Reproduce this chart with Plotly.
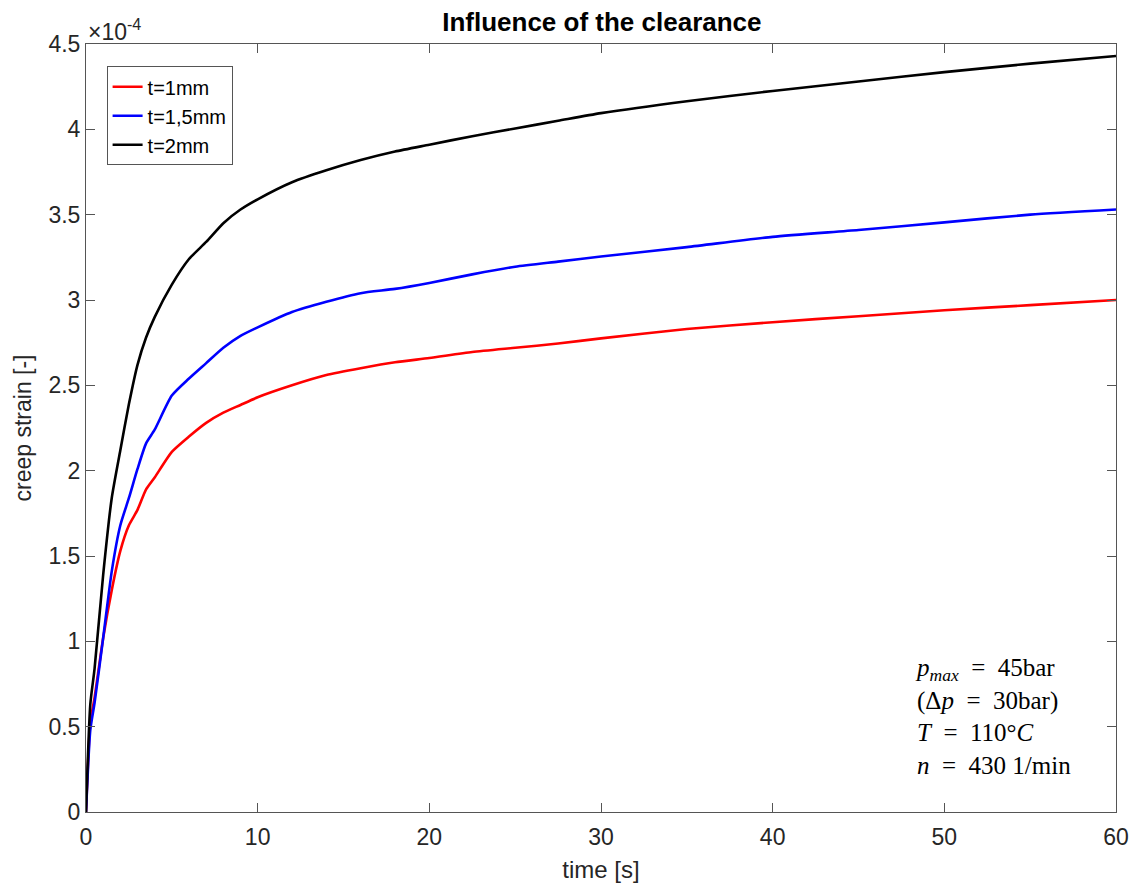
import plotly.graph_objects as go

# Sample times [s]
time_s = [0, 0.25, 0.5, 1, 1.5, 2, 2.5, 3, 3.5, 4, 5, 6, 7, 8, 9, 10,
          12, 14, 16, 18, 20, 22.5, 25, 27.5, 30, 35, 40, 45, 50, 55, 60]

# Creep strain, in units of 1e-4
strain_1mm = [0, 0.52, 0.67, 1.02, 1.30, 1.53, 1.68, 1.77, 1.89, 1.96, 2.11, 2.20, 2.28,
              2.34, 2.385, 2.43, 2.50, 2.56, 2.60, 2.635, 2.66, 2.695, 2.72, 2.745, 2.775,
              2.83, 2.87, 2.905, 2.94, 2.97, 3.00]
strain_1_5mm = [0, 0.48, 0.64, 1.02, 1.41, 1.68, 1.84, 2.01, 2.16, 2.24, 2.44, 2.54, 2.63,
                2.72, 2.79, 2.84, 2.93, 2.99, 3.04, 3.065, 3.10, 3.15, 3.195, 3.225, 3.255,
                3.31, 3.37, 3.41, 3.455, 3.50, 3.53]
strain_2mm = [0, 0.63, 0.84, 1.39, 1.84, 2.12, 2.39, 2.62, 2.78, 2.90, 3.09, 3.24, 3.34,
              3.45, 3.53, 3.59, 3.69, 3.76, 3.82, 3.87, 3.91, 3.96, 4.005, 4.05, 4.095,
              4.165, 4.225, 4.28, 4.335, 4.385, 4.43]

series_names = ["t=1mm", "t=1,5mm", "t=2mm"]
series_colors = ["#ff0000", "#0000ff", "#000000"]

x_ticks = [0, 10, 20, 30, 40, 50, 60]
y_ticks = [0, 0.5, 1, 1.5, 2, 2.5, 3, 3.5, 4, 4.5]
y_tick_text = ["0", "0.5", "1", "1.5", "2", "2.5", "3", "3.5", "4", "4.5"]

AXIS_COLOR = "#262626"
FONT = "Liberation Sans, Arial, sans-serif"

fig = go.Figure()
for name, color, ys in zip(series_names, series_colors,
                           [strain_1mm, strain_1_5mm, strain_2mm]):
    fig.add_trace(go.Scatter(
        x=time_s, y=ys, mode="lines", name=name,
        line=dict(color=color, width=2.6, shape="spline", smoothing=0.6),
    ))

axis_common = dict(
    showgrid=False, zeroline=False, showline=True, linecolor="#555555", linewidth=1,
    mirror="ticks", ticks="inside", ticklen=9, tickcolor="#555555", tickwidth=1,
    tickfont=dict(family=FONT, size=23, color=AXIS_COLOR),
)

fig.update_layout(
    width=1141, height=890,
    margin=dict(l=86, r=23, t=44, b=76),
    paper_bgcolor="white", plot_bgcolor="white",
    title=dict(text="<b>Influence of the clearance</b>", x=0.5275, xanchor="center",
               y=0.975, yanchor="middle",
               font=dict(family=FONT, size=26, color="#000000")),
    xaxis=dict(range=[0, 60], tickvals=x_ticks, ticklabelstandoff=4,
               title=dict(text="time [s]", standoff=12,
                          font=dict(family=FONT, size=24, color=AXIS_COLOR)),
               **axis_common),
    yaxis=dict(range=[0, 4.5], tickvals=y_ticks, ticktext=y_tick_text,
               title=dict(text="creep strain [-]", standoff=10,
                          font=dict(family=FONT, size=23, color=AXIS_COLOR)),
               **axis_common),
    legend=dict(x=0.02, y=0.971, xanchor="left", yanchor="top",
                bgcolor="white", bordercolor="#555555", borderwidth=1,
                font=dict(family=FONT, size=20, color="#000000"),
                itemwidth=30, tracegroupgap=0),
    showlegend=True,
)

# Axis exponent label
fig.add_annotation(
    xref="paper", yref="paper", x=0.0, y=1.0, xanchor="left", yanchor="bottom",
    xshift=0, yshift=-3, showarrow=False, align="left",
    text="×10<sup>-4</sup>", font=dict(family=FONT, size=23, color=AXIS_COLOR),
)

# Operating conditions
EQ = "\u2002=\u2002"
conditions = (f"<i>p</i><sub><i>max</i></sub>{EQ}45bar<br>"
              f"(Δ<i>p</i>{EQ}30bar)<br>"
              f"<i>T</i>{EQ}110°<i>C</i><br>"
              f"<i>n</i>{EQ}430 1/min")
fig.add_annotation(
    xref="x", yref="y", x=48.15, y=0.94, xanchor="left", yanchor="top",
    showarrow=False, align="left", text=conditions,
    font=dict(family="Liberation Serif, DejaVu Serif, serif", size=25, color="#000000"),
)

fig.write_html("out.html")
